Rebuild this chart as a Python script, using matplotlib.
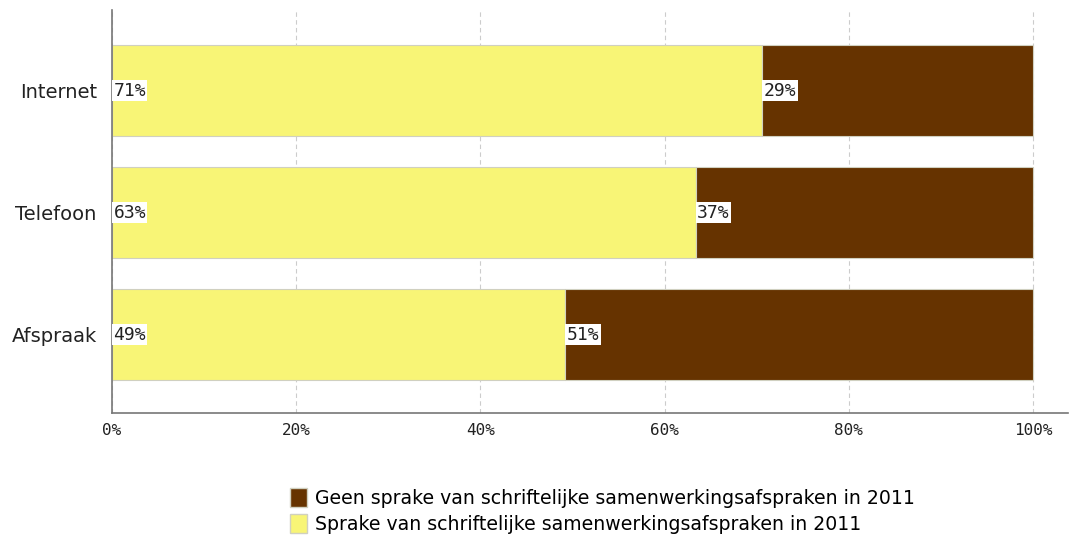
import matplotlib.pyplot as plt
from matplotlib.patches import Patch

# data (bottom to top)
categories = ["Afspraak", "Telefoon", "Internet"]
sprake = [49.2, 63.4, 70.6]
geen = [50.8, 36.6, 29.4]
ticks = [0, 20, 40, 60, 80, 100]
legend_labels = ["Geen sprake van schriftelijke samenwerkingsafspraken in 2011",
                 "Sprake van schriftelijke samenwerkingsafspraken in 2011"]

yellow = "#f8f576"
brown = "#663300"

plt.rcParams['font.family'] = ['DejaVu Sans']

fig = plt.figure(figsize=(10.7, 5.39), dpi=100)
ax = fig.add_axes([0.1047, 0.2338, 0.8933, 0.7476])

y = range(len(categories))
ax.barh(y, sprake, height=0.75, color=yellow, edgecolor="#d0d0c0", linewidth=0.8, zorder=2)
ax.barh(y, geen, left=sprake, height=0.75, color=brown, edgecolor="#d0d0c0", linewidth=0.8, zorder=2)

for i in y:
    for start, val in [(0, sprake[i]), (sprake[i], geen[i])]:
        ax.text(start + 0.15, i, f"{round(val)}%", ha="left", va="center", fontsize=13,
                family="DejaVu Sans Mono", color="#222222", zorder=3,
                bbox=dict(boxstyle="square,pad=0.08", fc="white", ec="none"))

ax.set_xlim(0, 103.8)
ax.set_ylim(-0.643, 2.66)
ax.set_xticks(ticks)
ax.set_xticklabels([f"{t}%" for t in ticks], fontsize=11.5, family="DejaVu Sans Mono")
ax.set_yticks(list(y))
ax.set_yticklabels(categories, fontsize=14)
ax.tick_params(length=0, colors="#222222")
ax.tick_params(axis="y", pad=11)
ax.tick_params(axis="x", pad=7)
ax.grid(axis="x", color="#cccccc", linestyle=(0, (4, 3)), linewidth=0.8, zorder=0)
ax.set_axisbelow(True)
for s in ["top", "right"]:
    ax.spines[s].set_visible(False)
for s in ["left", "bottom"]:
    ax.spines[s].set_color("#777777")
    ax.spines[s].set_linewidth(1.2)

handles = [Patch(facecolor=brown, edgecolor="#d0d0c0"), Patch(facecolor=yellow, edgecolor="#d0d0c0")]
fig.legend(handles, legend_labels, loc="upper left", bbox_to_anchor=(0.271, 0.095),
           frameon=False, fontsize=13.6, handlelength=0.9, handleheight=1.2,
           handletextpad=0.4, labelspacing=0.3, borderaxespad=0, borderpad=0)

fig.savefig("out.png", dpi=100)
